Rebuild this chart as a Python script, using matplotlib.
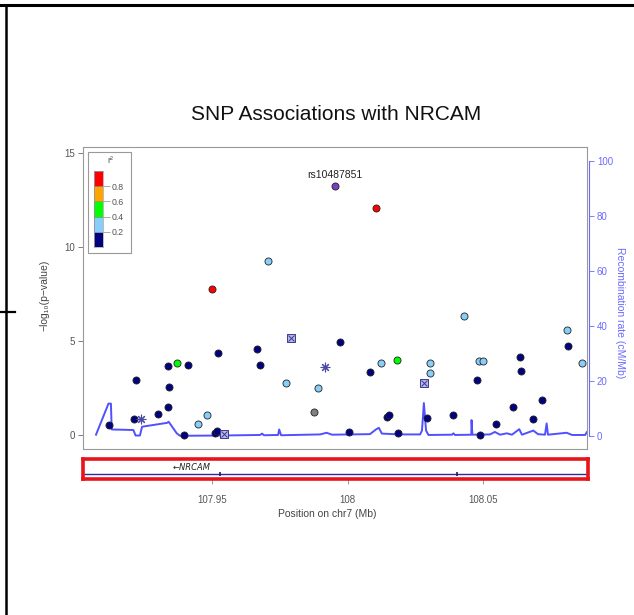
import matplotlib.pyplot as plt
from matplotlib.patches import Rectangle
from matplotlib.lines import Line2D

plt.rcParams['font.family'] = ['Liberation Sans', 'DejaVu Sans']

# SNPs by LD class (position in Mb, -log10 p)
navy_pos = [107.9121, 107.9212, 107.9221, 107.9303, 107.9338, 107.9341, 107.9338, 107.9414,
            107.9397, 107.9512, 107.9518, 107.9524, 107.9667, 107.9679, 107.9972, 108.0007,
            108.0084, 108.0146, 108.0155, 108.0189, 108.0293, 108.0392, 108.0478, 108.0490,
            108.0549, 108.0611, 108.0638, 108.0641, 108.0687, 108.0719, 108.0815]
navy_logp = [0.56, 0.88, 2.94, 1.15, 1.52, 2.59, 3.70, 3.72, 0.0, 0.14, 0.21, 4.39, 4.61, 3.74,
             4.98, 0.16, 3.37, 0.99, 1.10, 0.14, 0.94, 1.08, 2.94, 0.0, 0.62, 1.52, 4.17, 3.42,
             0.88, 1.88, 4.75]
lblue_pos = [107.9709, 107.9774, 107.9892, 107.9483, 107.9451, 108.0125, 108.0306, 108.0306,
             108.0431, 108.0486, 108.0501, 108.0811, 108.0867]
lblue_logp = [9.29, 2.77, 2.52, 1.06, 0.62, 3.85, 3.85, 3.31, 6.35, 3.95, 3.95, 5.62, 3.85]
green_pos = [107.9371, 108.0184]
green_logp = [3.86, 4.00]
red_pos = [107.9502, 108.0105]
red_logp = [7.77, 12.07]
gray_pos = [107.9877]
gray_logp = [1.26]
lead_pos = 107.9955
lead_logp = 13.28
lead_name = 'rs10487851'

# annotated SNPs
ast_pos = [107.9238, 107.9918]
ast_logp = [0.88, 3.65]
boxx_pos = [107.9792, 108.0283, 107.9545]
boxx_logp = [5.16, 2.77, 0.07]

# recombination rate (cM/Mb)
rec_pos = [107.9073, 107.9119, 107.9128, 107.9131, 107.9211, 107.9219, 107.9235, 107.9243,
           107.9335, 107.9341, 107.9371, 107.9383, 107.9531, 107.9678, 107.9686, 107.9693,
           107.9745, 107.9749, 107.9756, 107.9900, 107.9924, 107.9944, 108.0084, 108.0106,
           108.0117, 108.0128, 108.0195, 108.0269, 108.0276, 108.0283, 108.0291, 108.0300,
           108.0387, 108.0392, 108.0398, 108.0458, 108.0459, 108.0462, 108.0527, 108.0545,
           108.0564, 108.0589, 108.0608, 108.0635, 108.0645, 108.0687, 108.0704, 108.0730,
           108.0736, 108.0741, 108.0810, 108.0830, 108.0878, 108.0885]
rec_rate = [0.5, 11.8, 11.8, 2.4, 2.2, 0.2, 0.2, 3.4, 4.8, 5.2, 1.0, 0.1, 0.2, 0.4, 0.9, 0.3,
            0.4, 2.4, 0.3, 0.6, 1.2, 0.5, 0.7, 2.4, 3.0, 0.9, 0.6, 0.6, 2.0, 12.0, 2.0, 0.4,
            0.5, 1.0, 0.4, 0.5, 5.8, 0.5, 0.6, 1.5, 0.5, 1.0, 0.5, 2.5, 0.5, 2.0, 0.7, 0.5,
            4.6, 0.5, 1.2, 0.4, 0.4, 1.5]

ld_colors = ['#000080', '#87CEFA', '#00FF00', '#FFA500', '#FF0000']
ld_ticks = [0.2, 0.4, 0.6, 0.8]
exon_pos = [107.9531, 108.0401]
gene_label_pos = 107.9424
xticks = [107.95, 108.0, 108.05]
xticklabels = ['107.95', '108', '108.05']

W, H = 634, 615
fig = plt.figure(figsize=(W / 100, H / 100), dpi=100)

ax = fig.add_axes([83 / W, 1 - 449 / H, 504 / W, 302 / H])
ax2 = ax.twinx()
ax.set_zorder(ax2.get_zorder() + 1)
ax.patch.set_visible(False)

xmin, xmax = 107.9025, 108.0885
ax.set_xlim(xmin, xmax)
ax.set_ylim(-0.73, 15.34)
ax2.set_ylim(-4.7, 105.1)

ax2.plot(rec_pos, rec_rate, color='#5050ff', lw=1.4)

pt = dict(s=26, edgecolors='#222222', linewidths=0.6, zorder=3)
ax.scatter(navy_pos, navy_logp, c=ld_colors[0], **pt)
ax.scatter(lblue_pos, lblue_logp, c=ld_colors[1], **pt)
ax.scatter(green_pos, green_logp, c=ld_colors[2], **pt)
ax.scatter(red_pos, red_logp, c=ld_colors[4], **pt)
ax.scatter(gray_pos, gray_logp, c='#808080', **pt)
ax.scatter([lead_pos], [lead_logp], c='#7b3fc4', **pt)
ax.scatter(ast_pos, ast_logp, marker=(8, 2, 0), s=40, c='#4a4aa8', linewidths=0.8, zorder=3)
ax.scatter(boxx_pos, boxx_logp, marker='s', s=30, facecolors='#b8b8e0', edgecolors='#3a3a9a',
           linewidths=0.7, zorder=3)
ax.scatter(boxx_pos, boxx_logp, marker='x', s=18, c='#3a3a9a', linewidths=0.7, zorder=4)
ax.annotate(lead_name, (lead_pos, lead_logp), xytext=(0, 4), textcoords='offset points',
            ha='center', va='bottom', fontsize=7.5, color='#222222')

for s in ax.spines.values():
    s.set_color('#999999')
    s.set_linewidth(0.8)
ax.set_xticks([])
ax.set_yticks([0, 5, 10, 15])
ax.tick_params(axis='y', length=3.6, width=0.6, color='#666666', labelcolor='#555555',
               labelsize=7, pad=2)
ax.set_ylabel('\u2212log\u2081\u2080(p\u2212value)', fontsize=7.5, color='#444444')
ax.yaxis.set_label_coords(-0.066, 0.51)

blue = '#6a6aff'
for k in ['left', 'top', 'bottom']:
    ax2.spines[k].set_visible(False)
ax2.spines['right'].set_color(blue)
ax2.spines['right'].set_bounds(0, 100)
ax2.spines['right'].set_position(('outward', 1.5))
ax2.set_yticks([0, 20, 40, 60, 80, 100])
ax2.tick_params(axis='y', length=3.6, width=0.6, color=blue, labelcolor=blue,
                labelsize=7, pad=2)
ax2.set_ylabel('Recombination rate (cM/Mb)', rotation=270, fontsize=7.5, color=blue)
ax2.yaxis.set_label_coords(1.075, 0.452)

# r^2 legend
fig.add_artist(Rectangle((88.3 / W, 1 - 253.3 / H), 42.4 / W, 101 / H, transform=fig.transFigure,
                         facecolor='white', edgecolor='#999999', lw=0.8, zorder=5))
cax = fig.add_axes([94 / W, 1 - 247.3 / H, 9.3 / W, 76.6 / H], zorder=6)
for i, c in enumerate(ld_colors):
    cax.axhspan(i * 0.2, (i + 1) * 0.2, facecolor=c, edgecolor='#888888', lw=0.4)
cax.set_ylim(0, 1)
cax.set_xlim(0, 1)
cax.set_xticks([])
cax.yaxis.tick_right()
cax.set_yticks(ld_ticks)
cax.set_yticklabels([str(t) for t in ld_ticks])
cax.tick_params(axis='y', length=4.8, width=0.5, color='#888888', labelcolor='#555555',
                labelsize=6.3, pad=1)
for s in cax.spines.values():
    s.set_color('#888888')
    s.set_linewidth(0.4)
fig.text(110 / W, 1 - 161 / H, 'r\u00b2', fontsize=6.5, ha='center', va='center',
         color='#555555', zorder=7)

# gene track
gax = fig.add_axes([83 / W, 1 - 479 / H, 505 / W, 20 / H])
gax.set_xlim(xmin, xmax)
gax.set_ylim(0, 1)
gax.axhline(0.25, color='#2b2b9a', lw=1.0)
gax.plot(exon_pos, [0.25] * len(exon_pos), '|', color='#1a1a7a', ms=3, mew=1.2)
gax.text(gene_label_pos, 0.6, '\u2190NRCAM', fontsize=6, style='italic', ha='center',
         va='center', color='#222222', family=['DejaVu Sans'])
for s in gax.spines.values():
    s.set_color('#e8141c')
    s.set_linewidth(2.6)
gax.set_yticks([])
gax.set_xticks(xticks)
gax.set_xticklabels(xticklabels)
gax.tick_params(axis='x', length=3.6, width=0.6, color='#888888', labelcolor='#555555',
                labelsize=7, pad=8)
gax.set_xlabel('Position on chr7 (Mb)', fontsize=7.5, color='#444444')
gax.xaxis.set_label_coords(0.483, -1.5)

fig.text(336 / W, 1 - 115 / H, 'SNP Associations with NRCAM', fontsize=15, ha='center',
         va='center', color='#111111')

# page border lines
fig.add_artist(Line2D([0, 1], [1 - 4.5 / H] * 2, color='black', lw=2.2, transform=fig.transFigure))
fig.add_artist(Line2D([6 / W] * 2, [0, 1 - 4.5 / H], color='black', lw=1.8, transform=fig.transFigure))
fig.add_artist(Line2D([0, 15 / W], [1 - 312 / H] * 2, color='black', lw=1.6, transform=fig.transFigure))

fig.savefig('out.png', dpi=100)
